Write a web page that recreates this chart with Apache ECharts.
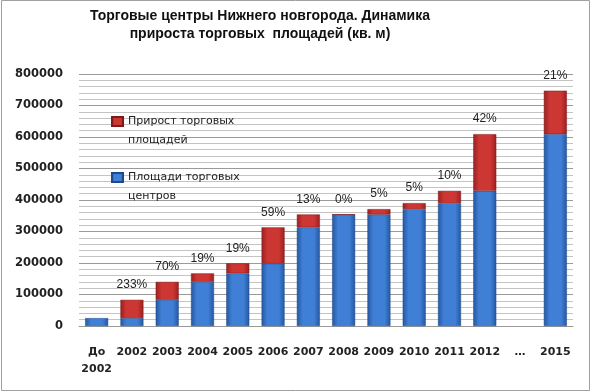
<!DOCTYPE html>
<html><head><meta charset="utf-8">
<script src="https://cdn.jsdelivr.net/npm/echarts@6/dist/echarts.min.js"></script>
<style>html,body{margin:0;padding:0;background:#fff}#c{width:592px;height:392px}</style>
</head><body><div id="c"></div>
<script>
const categories = ['До\n2002','2002','2003','2004','2005','2006','2007','2008','2009','2010','2011','2012','…','2015'];
const baseArea = [25000, 25000, 83000, 140000, 167000, 198000, 313000, 354000, 354000, 371000, 390000, 429000, null, 609000];
const growthArea = [null, 58000, 57000, 27000, 32000, 115000, 41000, 0, 17000, 19000, 39000, 180000, null, 138000];
const growthLabels = ['', '233%', '70%', '19%', '19%', '59%', '13%', '0%', '5%', '5%', '10%', '42%', '', '21%'];
const yTicks = [0, 100000, 200000, 300000, 400000, 500000, 600000, 700000, 800000];

function grad(edge, mid) {
  return new echarts.graphic.LinearGradient(0, 0, 1, 0, [
    {offset: 0, color: edge}, {offset: 0.25, color: mid}, {offset: 0.75, color: mid}, {offset: 1, color: edge}
  ]);
}
const chart = echarts.init(document.getElementById('c'));
chart.setOption({
  animation: false,
  backgroundColor: '#fff',
  graphic: [{type: 'rect', shape: {x: 1.5, y: 0.5, width: 588, height: 390}, style: {fill: 'none', stroke: '#a0a0a0', lineWidth: 1}, silent: true}],
  title: {
    text: 'Торговые центры Нижнего новгорода. Динамика\nприроста торговых  площадей (кв. м)',
    left: 255, top: 2, textAlign: 'center',
    textStyle: {fontFamily: 'Liberation Sans', fontWeight: 'bold', fontSize: 14, lineHeight: 18, color: '#111'}
  },
  legend: {
    orient: 'vertical', left: 106, top: 88, itemGap: -1, itemWidth: 11, itemHeight: 9,
    data: [{name: 'Прирост торговых площадей', icon: 'rect'}, {name: 'Площади торговых центров', icon: 'rect'}],
    formatter: function (n) {
      return n === 'Прирост торговых площадей' ? '\nПрирост торговых\nплощадей' : '\nПлощади торговых\nцентров';
    },
    textStyle: {fontFamily: 'DejaVu Sans', fontSize: 11, lineHeight: 19, color: '#222'}
  },
  grid: {left: 79, right: 19, top: 74, bottom: 66},
  xAxis: {
    type: 'category', data: categories,
    axisLine: {show: true, lineStyle: {color: '#999'}}, axisTick: {show: false},
    axisLabel: {interval: 0, margin: 18, lineHeight: 17, fontFamily: 'DejaVu Sans', fontWeight: 'bold', fontSize: 11, color: '#222'}
  },
  yAxis: {
    type: 'value', min: yTicks[0], max: yTicks[yTicks.length - 1], interval: 100000,
    axisLine: {show: false}, axisTick: {show: false},
    axisLabel: {margin: 16, fontFamily: 'DejaVu Sans', fontWeight: 'bold', fontSize: 11.5, color: '#222', formatter: v => String(v)},
    splitLine: {lineStyle: {color: '#9a9a9a', width: 1}},
    minorTick: {show: false, splitNumber: 5},
    minorSplitLine: {show: true, lineStyle: {color: '#c4c4c4', width: 1}}
  },
  series: [
    {
      name: 'Площади торговых центров', type: 'bar', stack: 's', data: baseArea, barWidth: 23,
      itemStyle: {color: grad('#24579f', '#3f7fd6'), borderColor: '#1d4a8a', borderWidth: 0.5},
      color: '#3a74c4'
    },
    {
      name: 'Прирост торговых площадей', type: 'bar', stack: 's', data: growthArea, barWidth: 23,
      itemStyle: {color: grad('#992020', '#cc3633'), borderColor: '#7e1a1a', borderWidth: 0.5},
      color: '#c0302d',
      label: {
        show: true, position: 'top', distance: 9,
        fontFamily: 'Liberation Sans', fontSize: 12, color: '#222',
        formatter: p => growthLabels[p.dataIndex]
      }
    }
  ]
});
</script></body></html>
